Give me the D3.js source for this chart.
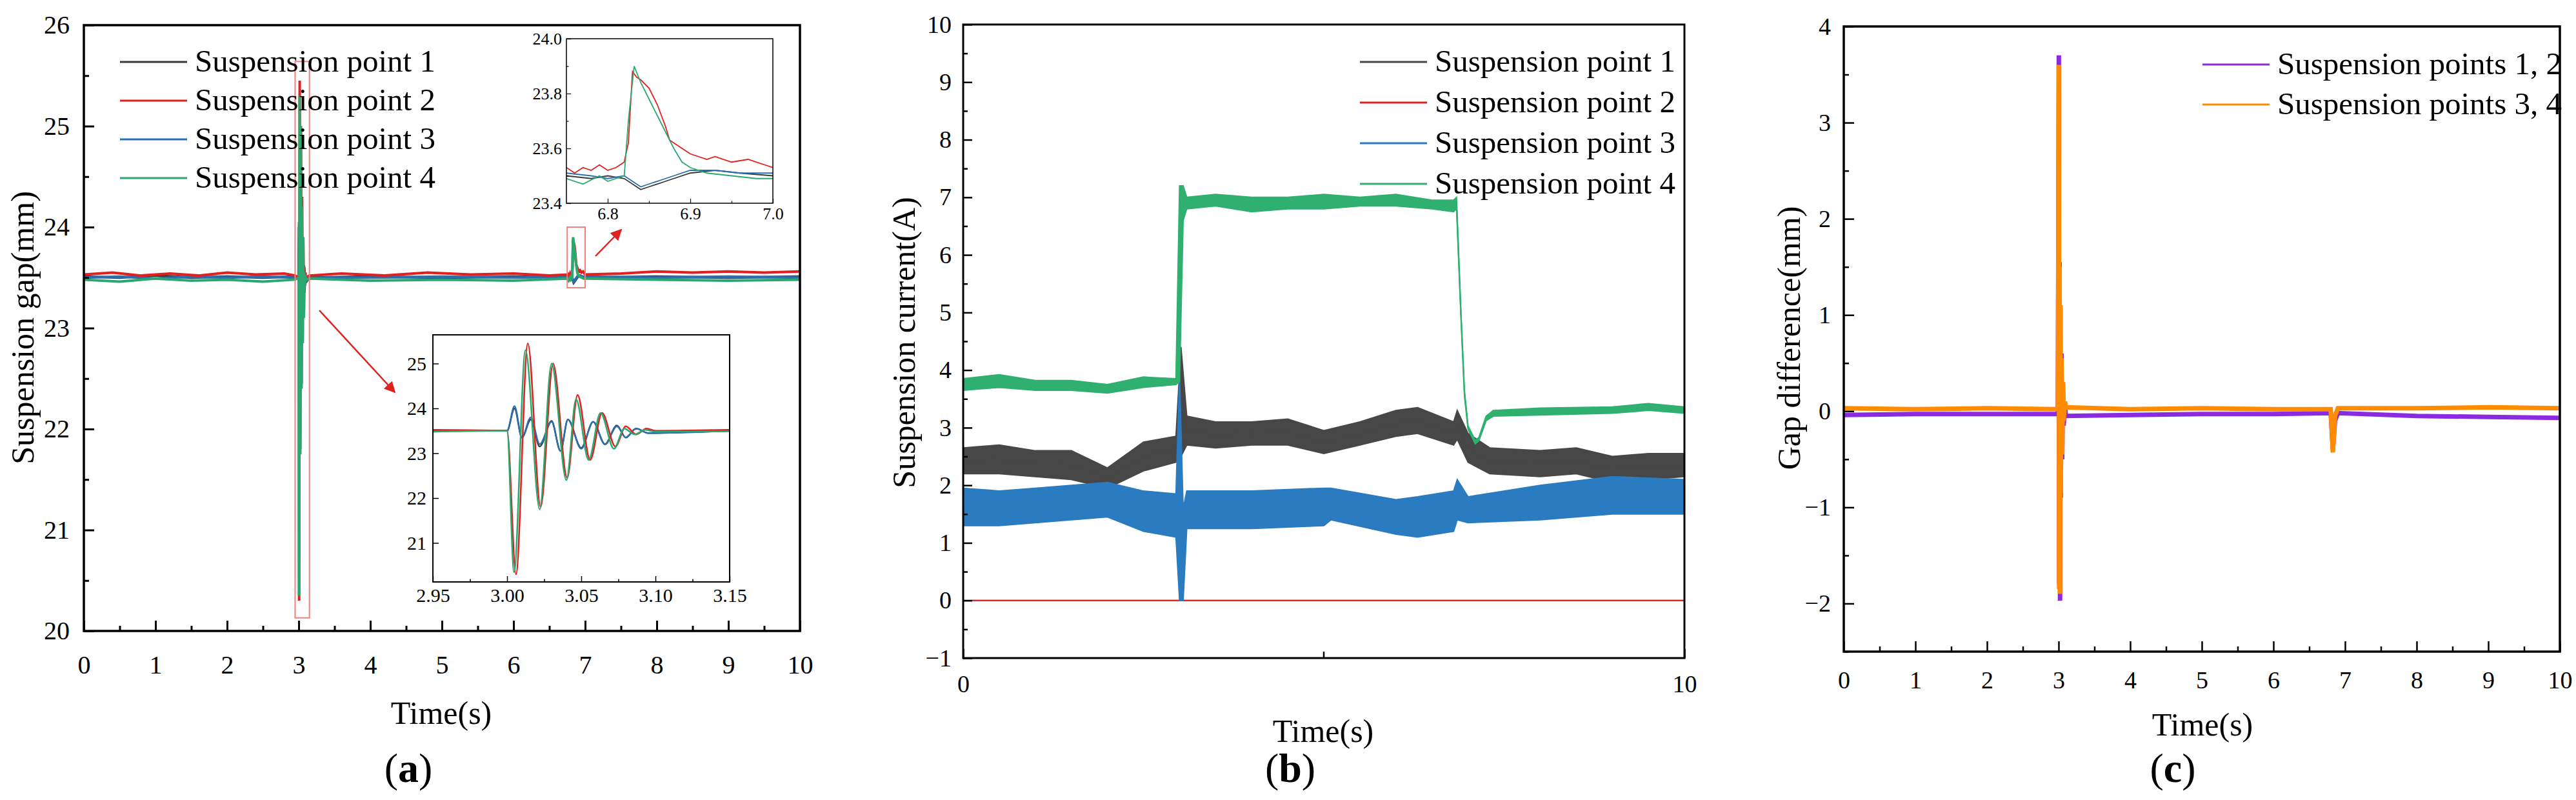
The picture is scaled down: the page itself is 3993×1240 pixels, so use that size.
<!DOCTYPE html>
<html><head><meta charset="utf-8">
<script src="https://cdn.jsdelivr.net/npm/d3@7"></script>
<style>body{margin:0;background:#fff}svg text{font-family:"Times New Roman","Liberation Serif","DejaVu Serif",serif !important}</style>
</head><body>
<svg id="fig" width="3993" height="1240" font-family="Liberation Serif"></svg>
<script>
//Data, [time, value]
var gap1 = [[0,23.51],[0.5,23.5],[1,23.52],[1.5,23.5],[2,23.51],[2.5,23.5],[2.95,23.51],[3.0,23.5],[3.005,24.0],[3.01,23.35],[3.016,23.75],[3.022,23.15],[3.03,23.72],[3.036,23.05],[3.041,23.75],[3.05,23.12],[3.058,23.7],[3.066,23.2],[3.074,23.62],[3.08,23.35],[3.087,23.55],[3.095,23.45],[3.15,23.5],[4,23.51],[5,23.5],[6,23.51],[6.75,23.5],[6.78,23.49],[6.8,23.5],[6.82,23.49],[6.83,23.47],[6.84,23.45],[6.85,23.46],[6.87,23.48],[6.9,23.51],[6.93,23.52],[6.96,23.51],[7.0,23.5],[8,23.51],[9,23.5],[10,23.51]];
var gap2 = [[0,23.53],[0.4,23.55],[0.8,23.52],[1.2,23.54],[1.6,23.52],[2.0,23.55],[2.4,23.53],[2.8,23.54],[2.95,23.52],[3.0,23.5],[3.006,20.3],[3.014,25.45],[3.0226,21.8],[3.031,25.0],[3.0405,22.45],[3.0475,24.3],[3.056,22.85],[3.064,23.9],[3.073,23.15],[3.08,23.6],[3.087,23.42],[3.094,23.55],[3.1,23.5],[3.15,23.52],[3.6,23.54],[4.2,23.52],[4.8,23.55],[5.4,23.53],[6.0,23.54],[6.5,23.52],[6.75,23.53],[6.76,23.51],[6.77,23.53],[6.78,23.52],[6.79,23.54],[6.8,23.52],[6.81,23.53],[6.82,23.55],[6.825,23.62],[6.83,23.88],[6.835,23.86],[6.84,23.85],[6.85,23.82],[6.86,23.76],[6.87,23.68],[6.875,23.63],[6.88,23.62],[6.89,23.6],[6.9,23.58],[6.91,23.57],[6.92,23.56],[6.93,23.57],[6.95,23.55],[6.97,23.56],[6.99,23.54],[7.0,23.53],[7.5,23.54],[8,23.56],[8.5,23.55],[9,23.56],[9.5,23.55],[10,23.56]];
var gap3 = [[0,23.5],[0.5,23.51],[1,23.49],[1.5,23.51],[2,23.5],[2.5,23.51],[2.95,23.5],[3.0,23.5],[3.005,24.05],[3.01,23.35],[3.016,23.8],[3.022,23.2],[3.03,23.7],[3.036,23.05],[3.041,23.75],[3.05,23.1],[3.058,23.7],[3.066,23.2],[3.074,23.6],[3.08,23.35],[3.087,23.55],[3.095,23.45],[3.15,23.5],[4,23.5],[5,23.51],[6,23.5],[6.75,23.51],[6.78,23.5],[6.8,23.49],[6.82,23.5],[6.83,23.48],[6.84,23.46],[6.85,23.47],[6.87,23.49],[6.9,23.52],[6.93,23.52],[6.96,23.51],[7.0,23.51],[8,23.5],[9,23.51],[10,23.5]];
var gap4 = [[0,23.48],[0.5,23.46],[1,23.49],[1.5,23.47],[2,23.48],[2.5,23.46],[2.95,23.48],[3.0,23.5],[3.0047,20.35],[3.0124,25.3],[3.022,21.75],[3.03,25.0],[3.04,22.4],[3.0465,24.2],[3.055,22.85],[3.063,23.9],[3.072,23.1],[3.079,23.55],[3.086,23.42],[3.093,23.52],[3.1,23.48],[3.15,23.49],[4,23.47],[5,23.48],[6,23.47],[6.75,23.49],[6.77,23.47],[6.79,23.5],[6.8,23.48],[6.81,23.49],[6.82,23.5],[6.825,23.7],[6.832,23.9],[6.84,23.84],[6.85,23.78],[6.86,23.72],[6.87,23.66],[6.88,23.6],[6.89,23.55],[6.9,23.53],[6.92,23.51],[6.95,23.5],[6.98,23.49],[7.0,23.49],[8,23.48],[9,23.47],[10,23.48]];

// [time, low, high]
var cur1 = [[0,2.2,2.65],[0.5,2.2,2.7],[1,2.15,2.6],[1.5,2.1,2.6],[2,1.95,2.3],[2.5,2.25,2.75],[2.95,2.4,2.85],[3.02,2.5,4.4],[3.1,2.7,3.2],[3.5,2.65,3.1],[4,2.7,3.1],[4.5,2.7,3.15],[5,2.55,2.95],[5.5,2.7,3.1],[6,2.85,3.3],[6.3,2.9,3.35],[6.8,2.7,3.1],[6.85,2.8,3.3],[7,2.4,2.9],[7.3,2.2,2.65],[8,2.15,2.6],[8.5,2.2,2.65],[9,2.05,2.5],[9.5,2.1,2.55],[10,2.15,2.55]];
var cur2 = [[0,0,0],[10,0,0]];
var cur3 = [[0,1.3,1.95],[0.5,1.3,1.9],[1,1.35,1.95],[1.5,1.4,2.0],[2,1.45,2.05],[2.5,1.2,1.9],[2.95,1.1,1.85],[3.0,0,3.9],[3.05,0,1.6],[3.1,1.25,1.9],[4,1.25,1.9],[5,1.3,1.95],[5.1,1.4,1.95],[6,1.15,1.75],[6.3,1.1,1.8],[6.8,1.2,1.9],[6.85,1.4,2.1],[7,1.35,1.8],[8,1.4,2.0],[9,1.5,2.15],[10,1.5,2.1]];
var cur4 = [[0,3.65,3.85],[0.5,3.7,3.92],[1,3.65,3.82],[1.5,3.65,3.82],[2,3.6,3.75],[2.5,3.7,3.88],[2.95,3.75,3.85],[3.0,3.8,7.2],[3.05,6.6,7.2],[3.1,6.8,7.0],[3.5,6.85,7.05],[4,6.75,7.0],[4.5,6.8,7.0],[5,6.8,7.05],[5.5,6.85,7.0],[6,6.85,7.05],[6.5,6.8,6.95],[6.8,6.75,6.95],[6.84,6.8,7.0],[6.9,4.95,5.05],[6.95,3.55,3.65],[7.0,2.97,3.03],[7.1,2.72,2.78],[7.15,2.77,2.83],[7.25,3.12,3.2],[7.35,3.2,3.3],[8,3.22,3.34],[9,3.25,3.36],[9.5,3.3,3.42],[10,3.25,3.36]];

var diff12 = [[0,-0.04],[1,-0.03],[2,-0.03],[2.99,-0.03],[3.003,3.7],[3.008,-1.8],[3.013,1.55],[3.02,-1.97],[3.025,1.1],[3.03,-0.9],[3.04,0.6],[3.05,-0.5],[3.06,0.3],[3.07,-0.15],[3.09,0.05],[3.1,-0.05],[4,-0.04],[5,-0.03],[6,-0.03],[6.8,-0.02],[6.83,-0.4],[6.86,-0.1],[6.9,-0.02],[8,-0.05],[9,-0.06],[10,-0.07]];
var diff34 = [[0,0.03],[1,0.02],[2,0.03],[2.99,0.02],[3.003,3.6],[3.008,-1.85],[3.013,1.5],[3.02,-1.9],[3.025,1.1],[3.03,-0.85],[3.04,0.55],[3.05,-0.45],[3.06,0.3],[3.07,-0.1],[3.09,0.1],[3.1,0.04],[4,0.02],[5,0.03],[6,0.02],[6.8,0.02],[6.83,-0.43],[6.86,-0.05],[6.9,0.03],[8,0.03],[9,0.04],[10,0.03]];

var legendA = ["Suspension point 1","Suspension point 2","Suspension point 3","Suspension point 4"];
var legendC = ["Suspension points 1, 2","Suspension points 3, 4"];
var colA = ["#3a3a3a","#e0201e","#2b6fb0","#2aa870"];
var colB = ["#474747","#e0201e","#2b7bc0","#30b070"];
var colC = ["#8a2be2","#ff8c00"];

var FONT = "'Times New Roman','Liberation Serif','DejaVu Serif',serif";
var svg = d3.select("#fig");

function frame(g, x, y, o) {
  var w = x.range()[1]-x.range()[0], h = y.range()[0]-y.range()[1];
  var xa = d3.axisBottom(x).tickValues(o.xt).tickSize(-o.tl).tickPadding(o.xpad || o.pad).tickFormat(o.xf || d3.format("d"));
  var ya = d3.axisLeft(y).tickValues(o.yt).tickSize(-o.tl).tickPadding(o.pad).tickFormat(o.yf || d3.format("d"));
  var gx = g.append("g").attr("transform","translate(0,"+y.range()[0]+")").call(xa);
  var gy = g.append("g").attr("transform","translate("+x.range()[0]+",0)").call(ya);
  [gx,gy].forEach(function(a){
    a.attr("font-family",FONT);
    a.select(".domain").remove();
    a.selectAll("line").attr("stroke","#000").attr("stroke-width",o.sw);
    a.selectAll("text").attr("font-size",o.fs).attr("fill","#000");
  });
  if (o.xm) g.append("g").attr("transform","translate(0,"+y.range()[0]+")")
      .call(d3.axisBottom(x).tickValues(o.xm).tickSize(-o.tl/2).tickFormat(""))
      .call(function(a){a.select(".domain").remove();a.selectAll("line").attr("stroke","#000").attr("stroke-width",o.sw);});
  if (o.ym) g.append("g").attr("transform","translate("+x.range()[0]+",0)")
      .call(d3.axisLeft(y).tickValues(o.ym).tickSize(-o.tl/2).tickFormat(""))
      .call(function(a){a.select(".domain").remove();a.selectAll("line").attr("stroke","#000").attr("stroke-width",o.sw);});
  g.append("rect").attr("x",x.range()[0]).attr("y",y.range()[1]).attr("width",w).attr("height",h)
    .attr("fill","none").attr("stroke","#000").attr("stroke-width",o.fw);
}

function clip(id, x, y) {
  svg.append("clipPath").attr("id",id).append("rect")
    .attr("x",x.range()[0]).attr("y",y.range()[1])
    .attr("width",x.range()[1]-x.range()[0]).attr("height",y.range()[0]-y.range()[1]);
}

function label(g, x, y, size, txt, rot) {
  var t = g.append("text").attr("text-anchor","middle").attr("font-size",size).attr("font-family",FONT);
  if (rot) t.attr("transform","translate("+x+","+y+") rotate(-90)"); else t.attr("x",x).attr("y",y);
  return t.text(txt);
}

function legend(g, names, cols, x0, y0, dy) {
  names.forEach(function(n,i){
    var yy = y0 + i*dy;
    g.append("line").attr("x1",x0).attr("x2",x0+104).attr("y1",yy).attr("y2",yy).attr("stroke",cols[i]).attr("stroke-width",3);
    g.append("text").attr("x",x0+116).attr("y",yy+15).attr("font-size",49).attr("font-family",FONT).text(n);
  });
}

function filt(d, x) { var dm = x.domain(); return d.filter(function(p){return p[0]>=dm[0]-0.02 && p[0]<=dm[1]+0.02;}); }

// ---------- (a)
var gA = svg.append("g");
var xA = d3.scaleLinear().domain([0,10]).range([130,1240]);
var yA = d3.scaleLinear().domain([20,26]).range([978,39]);
clip("cA", xA, yA);
var lineA = d3.line().x(function(d){return xA(d[0]);}).y(function(d){return yA(d[1]);});
var gapSeries = [gap1, gap2, gap3, gap4];
var drawOrder = [0,2,1,3];
drawOrder.forEach(function(i){
  gA.append("path").attr("d",lineA(gapSeries[i])).attr("fill","none").attr("stroke",colA[i]).attr("stroke-width",4).attr("clip-path","url(#cA)");
});
frame(gA, xA, yA, {xt:d3.range(0,11), yt:d3.range(20,27), xm:d3.range(0.5,10,1), ym:d3.range(20.5,26,1), tl:16, pad:22, xpad:38, fs:40, sw:3, fw:3.5});
gA.append("rect").attr("x",xA(2.95)).attr("y",yA(25.64)).attr("width",xA(3.15)-xA(2.95)).attr("height",yA(20.13)-yA(25.64)).attr("fill","none").attr("stroke","#f08080").attr("stroke-width",2);
gA.append("rect").attr("x",xA(6.75)).attr("y",yA(24.0)).attr("width",xA(7.0)-xA(6.75)).attr("height",yA(23.4)-yA(24.0)).attr("fill","none").attr("stroke","#f08080").attr("stroke-width",2);
svg.append("defs").append("marker").attr("id","arr").attr("viewBox","0 0 10 10").attr("refX",9).attr("refY",5)
  .attr("markerWidth",7).attr("markerHeight",7).attr("orient","auto").append("path").attr("d","M0,0L10,5L0,10z").attr("fill","#e0201e");
gA.append("line").attr("x1",495).attr("y1",481).attr("x2",612).attr("y2",608).attr("stroke","#e0201e").attr("stroke-width",2.5).attr("marker-end","url(#arr)");
gA.append("line").attr("x1",923).attr("y1",397).attr("x2",963).attr("y2",356).attr("stroke","#e0201e").attr("stroke-width",2.5).attr("marker-end","url(#arr)");
legend(gA, legendA, colA, 186, 96, 60);

// inset 1
var xI1 = d3.scaleLinear().domain([2.95,3.15]).range([671,1131]);
var yI1 = d3.scaleLinear().domain([20.13,25.64]).range([902,519]);
clip("cI1", xI1, yI1);
gA.append("rect").attr("x",671).attr("y",519).attr("width",460).attr("height",383).attr("fill","#fff");
var lineI1 = d3.line().curve(d3.curveMonotoneX).x(function(d){return xI1(d[0]);}).y(function(d){return yI1(d[1]);});
drawOrder.forEach(function(i){
  gA.append("path").attr("d",lineI1(filt(gapSeries[i],xI1))).attr("fill","none").attr("stroke",colA[i]).attr("stroke-width",2.5).attr("clip-path","url(#cI1)");
});
frame(gA, xI1, yI1, {xt:[2.95,3.0,3.05,3.1,3.15], yt:[21,22,23,24,25], xm:[2.975,3.025,3.075,3.125], tl:9, pad:10, fs:30, sw:1.5, fw:2, xf:d3.format(".2f")});

// inset 2
var xI2 = d3.scaleLinear().domain([6.75,7.0]).range([878,1198]);
var yI2 = d3.scaleLinear().domain([23.4,24.0]).range([315,60]);
clip("cI2", xI2, yI2);
gA.append("rect").attr("x",878).attr("y",60).attr("width",320).attr("height",255).attr("fill","#fff");
var lineI2 = d3.line().x(function(d){return xI2(d[0]);}).y(function(d){return yI2(d[1]);});
drawOrder.forEach(function(i){
  gA.append("path").attr("d",lineI2(filt(gapSeries[i],xI2))).attr("fill","none").attr("stroke",colA[i]).attr("stroke-width",1.8).attr("clip-path","url(#cI2)");
});
frame(gA, xI2, yI2, {xt:[6.8,6.9,7.0], yt:[23.4,23.6,23.8,24.0], xm:[6.85,6.95], ym:[23.5,23.7,23.9], tl:7, pad:7, fs:26, sw:1.2, fw:1.5, xf:d3.format(".1f"), yf:d3.format(".1f")});

label(gA, 684, 1122, 50, "Time(s)");
label(gA, 52, 508, 50, "Suspension gap(mm)", true);
label(gA, 633, 1212, 64, "").html("(<tspan font-weight='bold'>a</tspan>)");

// ---------- (b)
var gB = svg.append("g");
var xB = d3.scaleLinear().domain([0,10]).range([1493,2611]);
var yB = d3.scaleLinear().domain([-1,10]).range([1020,38]);
clip("cB", xB, yB);
var areaB = d3.area().x(function(d){return xB(d[0]);}).y0(function(d){return yB(d[1]);}).y1(function(d){return yB(d[2]);});
var lineB = d3.line().x(function(d){return xB(d[0]);}).y(function(d){return yB((d[1]+d[2])/2);});
var curSeries = [cur1, cur2, cur3, cur4];
curSeries.forEach(function(s,i){
  gB.append("path").attr("d",areaB(s)).attr("fill",colB[i]).attr("stroke",colB[i]).attr("stroke-width",2).attr("clip-path","url(#cB)");
  gB.append("path").attr("d",lineB(s)).attr("fill","none").attr("stroke",colB[i]).attr("stroke-width",2).attr("clip-path","url(#cB)");
});
frame(gB, xB, yB, {xt:[0,10], yt:d3.range(-1,11), ym:d3.range(-0.5,10,1), tl:14, pad:18, xpad:26, fs:38, sw:2.5, fw:3});
gB.append("line").attr("x1",xB(5)).attr("x2",xB(5)).attr("y1",yB(-1)).attr("y2",yB(-1)-10).attr("stroke","#000").attr("stroke-width",2.5);
legend(gB, legendA, colB, 2108, 96, 63);
label(gB, 2051, 1150, 50, "Time(s)");
label(gB, 1418, 531, 50, "Suspension current(A)", true);
label(gB, 2000, 1212, 64, "").html("(<tspan font-weight='bold'>b</tspan>)");

// ---------- (c)
var gC = svg.append("g");
var xC = d3.scaleLinear().domain([0,10]).range([2858,3968]);
var yC = d3.scaleLinear().domain([-2.5,4]).range([1010,41]);
clip("cC", xC, yC);
var lineC = d3.line().x(function(d){return xC(d[0]);}).y(function(d){return yC(d[1]);});
[diff12, diff34].forEach(function(s,i){
  gC.append("path").attr("d",lineC(s)).attr("fill","none").attr("stroke",colC[i]).attr("stroke-width",7).attr("clip-path","url(#cC)");
});
frame(gC, xC, yC, {xt:d3.range(0,11), yt:d3.range(-2,5), xm:d3.range(0.5,10,1), ym:d3.range(-2.5,4,1), tl:16, pad:20, xpad:30, fs:38, sw:2.5, fw:3.5});
legend(gC, legendC, colC, 3414, 100, 62);
label(gC, 3414, 1140, 50, "Time(s)");
label(gC, 2790, 524, 50, "Gap difference(mm)", true);
label(gC, 3368, 1212, 64, "").html("(<tspan font-weight='bold'>c</tspan>)");
</script>
</body></html>
